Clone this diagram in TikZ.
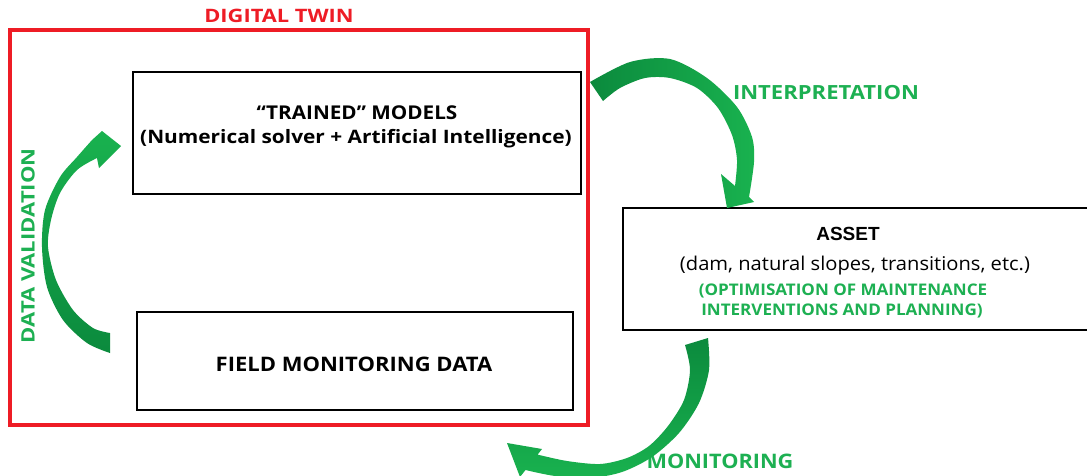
\documentclass[tikz,border=0pt]{standalone}
\usepackage{fontspec}
\setmainfont{Open Sans}
\newfontfamily\arialfont{Liberation Sans}
\newcommand\fsz[2]{\fontsize{#1}{#1}\selectfont\addfontfeature{FakeStretch=#2}}
\definecolor{tred}{HTML}{EE1C25}
\definecolor{tgreen}{HTML}{1DB052}
\definecolor{gdark}{HTML}{0B8A3D}
\definecolor{glight}{HTML}{19B24F}
\tikzset{
  box/.style={draw=black, line width=2.8pt, inner sep=0pt, fill=none},
  redbox/.style={draw=tred, line width=3.5pt, inner sep=0pt},
  lbl/.style={inner sep=0pt, text=black},
  glbl/.style={inner sep=0pt, text=tgreen},
}
\begin{document}
\begin{tikzpicture}[x=1pt,y=-1pt]
\useasboundingbox (0,0) rectangle (1087,475);
\clip (0,0) rectangle (1087,475);
\fill[white] (0,0) rectangle (1087,475);

% boxes
\node[redbox, minimum width=578pt, minimum height=395pt] (dt) at (299,227.5) {};
\node[box, minimum width=448pt, minimum height=122pt] (models) at (357,133) {};
\node[box, minimum width=436pt, minimum height=98pt] (field) at (355,361) {};
\node[box, minimum width=472pt, minimum height=122pt] (asset) at (859,269) {};

% labels
\node[lbl, text=tred, font=\bfseries\fsz{18.5}{1.18}] (dtl) at (279,16) {DIGITAL TWIN};
\node[lbl, font=\bfseries\fsz{19}{1.09}] (m1) at (357,113) {“TRAINED” MODELS};
\node[lbl, font=\bfseries\fsz{18.5}{1.127}] (m2) at (356,139) {(Numerical solver + Artificial Intelligence)};
\node[lbl, font=\bfseries\fsz{20}{1.10}] (f1) at (354,364) {FIELD MONITORING DATA};
\node[lbl, font=\arialfont\bfseries\fontsize{19}{21}\selectfont] (a1) at (848,234) {ASSET};
\node[lbl, font=\fsz{19}{1.06}] (a2) at (855,266) {(dam, natural slopes, transitions, etc.)};
\node[glbl, font=\bfseries\fsz{16}{1.065}] (a3) at (843,291) {(OPTIMISATION OF MAINTENANCE};
\node[glbl, font=\bfseries\fsz{16}{1.065}] (a4) at (842,311) {INTERVENTIONS AND PLANNING)};
\node[glbl, font=\bfseries\fsz{19.5}{1.13}] (interp) at (826,93) {INTERPRETATION};
\node[glbl, font=\bfseries\fsz{20}{1.085}] (mon) at (720,461) {MONITORING};
\node[glbl, rotate=90, font=\bfseries\fsz{18.5}{1.19}] (dv) at (28,246) {DATA VALIDATION};

% interpretation arrow
\path[left color=gdark, right color=glight]
  (590,82) -- plot[smooth] coordinates {(590,82) (630,62) (670,59) (707,78) (737,107) (752,137) (754,162) (749,197)}
  -- (754,202) -- (727,208) -- (721,174)
  -- plot[smooth] coordinates {(735,186) (737,160) (732,135) (718,108) (697,88) (670,78) (645,78) (620,88) (603,101)}
  -- cycle;

% data validation arrow
\path[bottom color=gdark, top color=glight]
  (110,353) -- plot[smooth] coordinates {(110,353) (87,343) (63,320) (47,287) (42,247) (45,210) (60,177) (77,157) (92,140)}
  -- (102,131) -- (121,146) -- (99,168)
  -- plot[smooth] coordinates {(97,158) (77,170) (60,193) (51,220) (48,247) (56,280) (73,310) (93,328) (110,333)}
  -- cycle;

% monitoring arrow
\path[top color=gdark, bottom color=glight]
  (685,345) -- (708,338) -- plot[smooth] coordinates {(708,338) (709,370) (699,403) (679,433) (652,457) (622,472) (590,478) (555,476) (525.5,470)}
  -- (520,477) -- (507,443) -- (542,449)
  -- plot[smooth] coordinates {(537.6,454.6) (567,461) (600,464) (627,458) (649,446) (668,426) (684,400) (690,370) (685,345)}
  -- cycle;
\end{tikzpicture}
\end{document}
